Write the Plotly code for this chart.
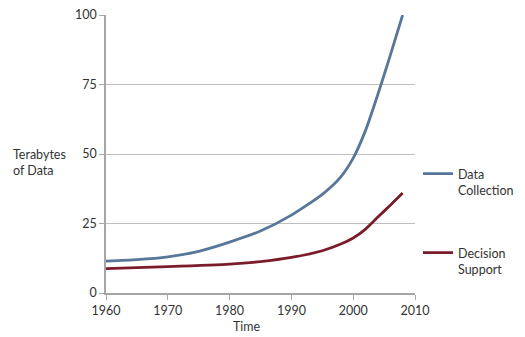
import plotly.graph_objects as go

# Year samples for each series
years_collection = [1960, 1965, 1970, 1975, 1980, 1985, 1990, 1995, 1998, 2000, 2002, 2004, 2006, 2008]
data_collection = [11.5, 12.0, 13.0, 15.0, 18.3, 22.3, 28.0, 35.5, 41.8, 48.5, 58.5, 71.5, 85.5, 100.0]

years_support = [1960, 1970, 1980, 1985, 1990, 1995, 1998, 2000, 2002, 2004, 2006, 2008]
decision_support = [8.8, 9.5, 10.4, 11.3, 12.8, 15.2, 17.6, 19.8, 23.0, 27.3, 31.6, 36.0]

x_ticks = [1960, 1970, 1980, 1990, 2000, 2010]
y_ticks = [0, 25, 50, 75, 100]

FONT = "Lato, Carlito, 'Open Sans', sans-serif"
TEXT = "#333333"
W, H = 525, 337
ML, MR, MT, MB = 106, 110, 15, 44

fig = go.Figure()
fig.add_trace(go.Scatter(
    x=years_collection, y=data_collection, mode="lines",
    name="Data<br>Collection",
    line=dict(color="#57769A", width=2.8, shape="spline", smoothing=0.6),
    legend="legend",
))
fig.add_trace(go.Scatter(
    x=years_support, y=decision_support, mode="lines",
    name="Decision<br>Support",
    line=dict(color="#7A1C2A", width=2.8, shape="spline", smoothing=0.6),
    legend="legend2",
))

legend_style = dict(
    xref="container", yref="container", xanchor="left", yanchor="top",
    font=dict(family=FONT, size=12.5, color=TEXT),
    bgcolor="rgba(0,0,0,0)", itemwidth=30, valign="top",
)

fig.update_layout(
    width=W, height=H,
    margin=dict(l=ML, r=MR, t=MT, b=MB, autoexpand=False),
    paper_bgcolor="white", plot_bgcolor="white",
    font=dict(family=FONT, size=12.5, color=TEXT),
    xaxis=dict(
        range=[1960, 2010], tickvals=x_ticks, ticktext=[str(v) for v in x_ticks],
        showgrid=False, zeroline=False, showline=True, linecolor="#A6A6A6", linewidth=1.5,
        ticks="outside", ticklen=5, tickcolor="#A6A6A6", tickwidth=1,
        tickfont=dict(family=FONT, size=12.5, color=TEXT),
    ),
    yaxis=dict(
        range=[0, 100], tickvals=y_ticks,
        showgrid=True, gridcolor="#BFBFBF", gridwidth=1.2, zeroline=False,
        showline=True, linecolor="#A6A6A6", linewidth=1.5,
        ticks="outside", ticklen=5, tickcolor="#A6A6A6", tickwidth=1,
        tickfont=dict(family=FONT, size=12.5, color=TEXT),
    ),
    legend=dict(x=418 / W, y=1 - 159 / H, **legend_style),
    legend2=dict(x=418 / W, y=1 - 238 / H, **legend_style),
    showlegend=True,
)

# Free-standing labels, placed in pixel terms and converted to paper coordinates
plot_w = W - ML - MR
plot_h = H - MT - MB


def paper_x(px):
    return (px - ML) / plot_w


def paper_y(py):
    return 1 - (py - MT) / plot_h


fig.add_annotation(text="Terabytes<br>of Data", x=paper_x(11), y=paper_y(162),
                   xref="paper", yref="paper", showarrow=False, align="left",
                   xanchor="left", yanchor="middle",
                   font=dict(family=FONT, size=12.5, color=TEXT))
fig.add_annotation(text="Time", x=paper_x(247), y=paper_y(326),
                   xref="paper", yref="paper", showarrow=False,
                   xanchor="center", yanchor="middle",
                   font=dict(family=FONT, size=12.5, color=TEXT))

fig.write_html("out.html")
